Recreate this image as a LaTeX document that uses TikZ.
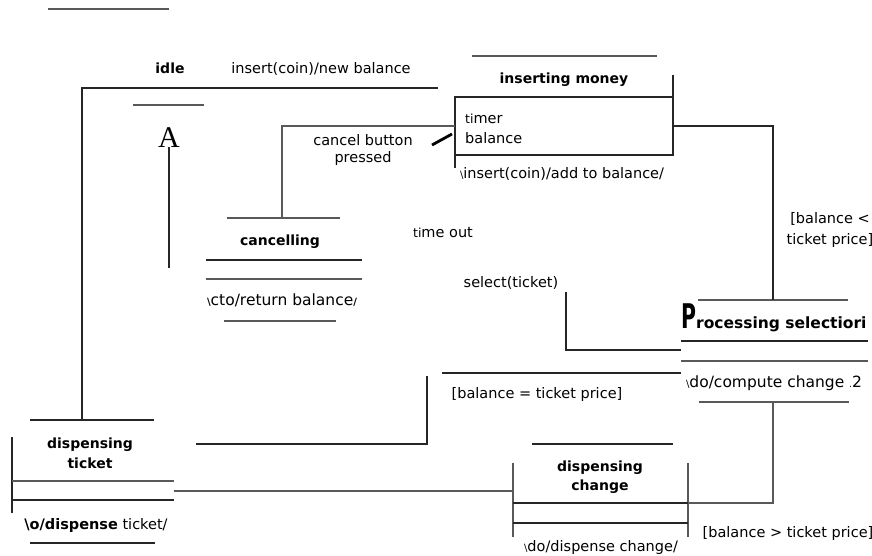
\documentclass[tikz,border=0pt]{standalone}
\usepackage{fontspec}
\setmainfont{DejaVu Sans}
\newfontfamily\serifA{Liberation Serif}
\newcommand{\tinybs}{{\fontsize{10}{10}\selectfont\textbackslash}}
\newcommand{\smallti}{{\fontsize{12.5}{12.5}\selectfont ti}}
\begin{document}
\begin{tikzpicture}[x=1pt,y=-1pt,
  ln/.style={line width=1.2pt, draw=black!85},
  gln/.style={line width=1.2pt, draw=black!65},
  lbl/.style={font=\fontsize{14.5}{17}\selectfont, inner sep=0pt, anchor=base},
  ttl/.style={font=\fontsize{14}{17}\selectfont\bfseries, inner sep=0pt, anchor=base},
]
\useasboundingbox (0,0) rectangle (872,555);

% ---------- labels ----------
\node[ttl] (idle) at (170,73) {idle};
\node[lbl] (insnew) at (321,73) {insert(coin)/new balance};
\node[ttl] (imT) at (564,83) {inserting money};
\node[lbl, anchor=base west] (timer) at (465,123) {\smallti mer};
\node[lbl, anchor=base west] (bal) at (465,143) {balance};
\node[lbl] (imA) at (562,178) {\tinybs insert(coin)/add to balance/};
\node[inner sep=0pt, anchor=base, font=\serifA\fontsize{30}{30}\selectfont] (A) at (169,147) {A};
\node[lbl] (cb1) at (363,145) {cancel button};
\node[lbl] (cb2) at (363,162) {pressed};
\node[ttl] (caT) at (280,245) {cancelling};
\node[lbl, font=\fontsize{15.5}{17}\selectfont] (caA) at (282,305) {{\fontsize{10}{10}\selectfont\bfseries\textbackslash}cto/return balance{\fontsize{10}{10}\selectfont\bfseries/}};
\node[lbl] (tout) at (443,237) {\smallti me out};
\node[lbl] (sel) at (511,287) {select(ticket)};
\node[lbl] (lt1) at (830,223) {[balance <};
\node[lbl] (lt2) at (830,244) {ticket price]};
\node[inner sep=0pt, anchor=base west] (psT) at (681,328)
  {\scalebox{0.6}[1]{\fontsize{34}{34}\selectfont\bfseries P}{\fontsize{15.5}{17}\selectfont\bfseries rocessing selectiori}};
\node[lbl, font=\fontsize{15.5}{17}\selectfont] (psA) at (774,387) {\tinybs do/compute change {\fontsize{9}{9}\selectfont.}2};
\node[lbl] (eq) at (537,398) {[balance = ticket price]};
\node[lbl] (gt) at (788,537) {[balance > ticket price]};
\node[ttl] (dt1) at (90,448) {dispensing};
\node[ttl] (dt2) at (90,468) {ticket};
\node[lbl] (dtA) at (96,529) {{\bfseries\textbackslash o/dispense} ticket/};
\node[ttl] (dc1) at (600,471) {dispensing};
\node[ttl] (dc2) at (600,490) {change};
\node[lbl] (dcA) at (601,551) {\tinybs do/dispense change/};

% ---------- state outlines ----------
% loose top line
\draw[gln] (48,9) -- (169,9);
% idle
\draw[gln] (133,105) -- (204,105);
% inserting money
\draw[gln] (472,56) -- (657,56);
\draw[ln] (455,97) rectangle (673,155);
\draw[ln] (673,75) -- (673,97);
\draw[ln] (455,155) -- (455,168);
% cancelling
\draw[gln] (227,218) -- (340,218);
\draw[ln] (206,260) -- (362,260);
\draw[gln] (206,279) -- (362,279);
\draw[gln] (224,321) -- (336,321);
% processing selection
\draw[gln] (698,300) -- (848,300);
\draw[ln] (681,341) -- (868,341);
\draw[gln] (681,361) -- (868,361);
\draw[gln] (699,402) -- (849,402);
% dispensing ticket
\draw[ln] (30,420) -- (154,420);
\draw[ln] (12,437) -- (12,513);
\draw[gln] (12,481) -- (174,481);
\draw[ln] (12,500) -- (174,500);
\draw[ln] (30,543) -- (155,543);
% dispensing change
\draw[ln] (532,444) -- (673,444);
\draw[gln] (513,463) -- (513,537);
\draw[gln] (688,463) -- (688,537);
\draw[ln] (513,503) -- (688,503);
\draw[ln] (513,523) -- (688,523);

% slash mark beside inserting money
\draw[line width=2.8pt, black] (432,145) -- (452,134);

% ---------- connector end points ----------
\coordinate (idleR) at (438,88);
\coordinate (dtTop) at (82,420);
\coordinate (imL) at (455,126);
\coordinate (caTop) at (282,218);
\coordinate (imR) at (673,126);
\coordinate (psTop) at (773,300);
\coordinate (selTop) at (566,292);
\coordinate (psL1) at (681,350);
\coordinate (psL2) at (681,373);
\coordinate (eqL) at (442,373);
\coordinate (eqV) at (427,376);
\coordinate (dtR1) at (196,444);
\coordinate (dtR2) at (174,491);
\coordinate (dcL) at (513,491);
\coordinate (psBot) at (773,402);
\coordinate (dcR) at (688,503);
\coordinate (aEnd) at (169,268);

% ---------- connectors ----------
\draw[ln] (idleR) -| (dtTop);
\draw[gln] (imL) -| (caTop);
\draw[ln] (imR) -| (psTop);
\draw[ln] (selTop) |- (psL1);
\draw[ln] (psL2) -- (eqL);
\draw[ln] (eqV) |- (dtR1);
\draw[gln] (dtR2) -- (dcL);
\draw[gln] (psBot) |- (dcR);
\draw[ln] (A.south) -- (aEnd);
\end{tikzpicture}
\end{document}
